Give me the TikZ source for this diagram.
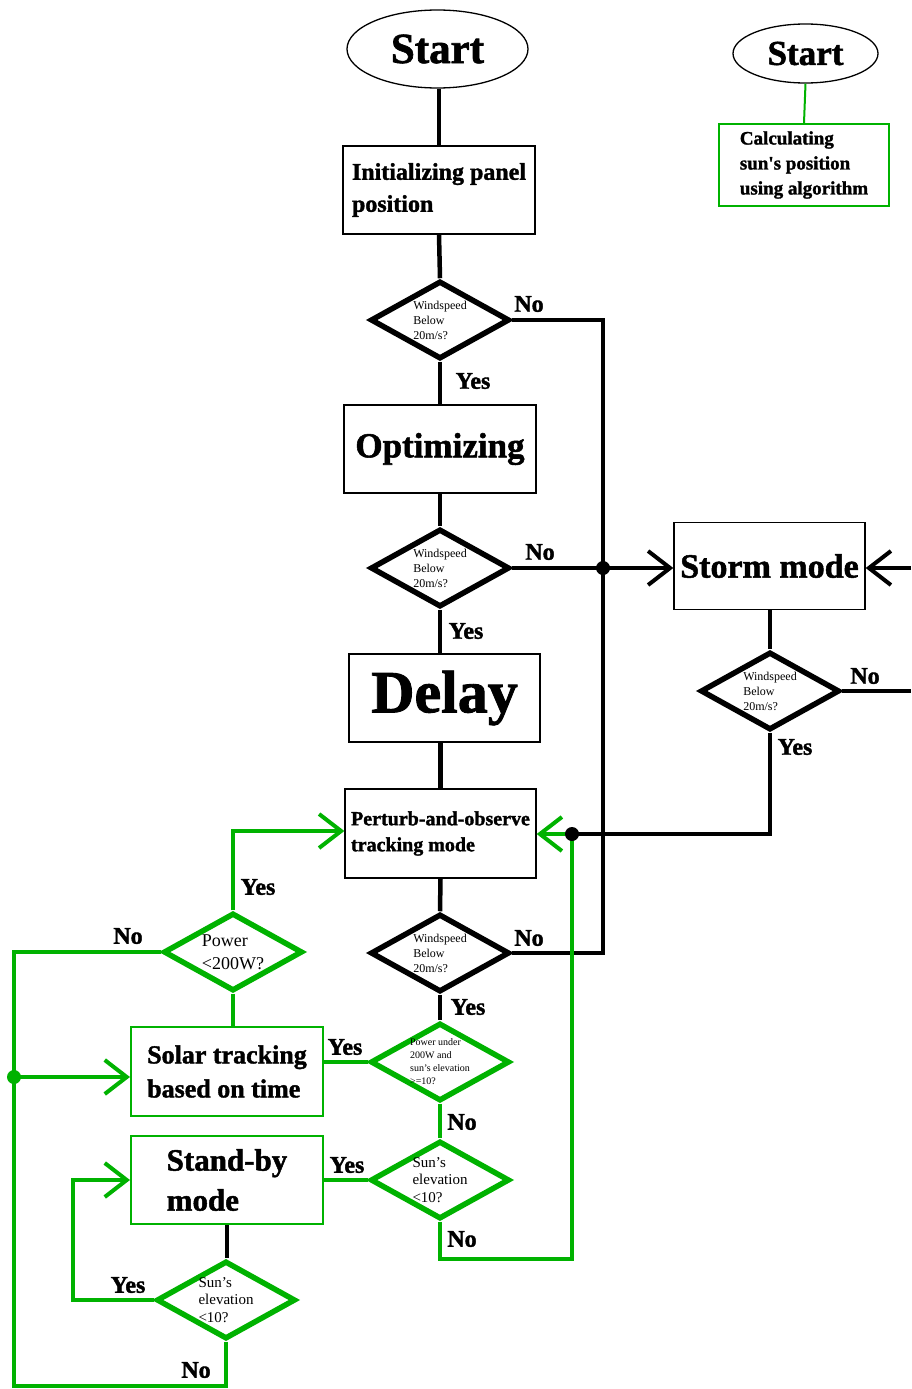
\documentclass[tikz,border=0pt]{standalone}
\usepackage{fontspec}
\setmainfont{Liberation Serif}
\newfontfamily\hv{Liberation Serif}[BoldFeatures={FakeBold=1.5}]
\usetikzlibrary{shapes.geometric,arrows.meta}
\definecolor{grn}{RGB}{0,178,0}

\newcommand{\fs}[2]{\fontsize{#1}{#2}\selectfont}
\newcommand{\ap}{\char39\relax}

\tikzset{
  box/.style={draw, line width=1.3pt, rectangle, inner sep=0pt, align=left},
  gbox/.style={box, draw=grn, line width=2pt},
  oval/.style={ellipse, draw, line width=1.3pt, inner sep=0pt},
  dec/.style={diamond, draw, line width=5.5pt, minimum width=139pt,
              minimum height=78pt, inner sep=0pt},
  gdec/.style={dec, draw=grn},
  dtext/.style={align=left, inner sep=0pt, text=black},
  wire/.style={line width=4.5pt},
  gwire/.style={wire, draw=grn},
  lbl/.style={font=\hv\bfseries\fs{24}{24}, inner sep=0pt},
  arr/.style={-{Straight Barb[length=22pt,width=34pt,line width=4pt]}},
  dot/.style={circle, fill, inner sep=0pt, minimum size=14pt},
}

\begin{document}
\begin{tikzpicture}[x=1pt,y=-1pt]
\useasboundingbox (0,0) rectangle (911,1389);

% ---- main column ----
\node[oval, minimum width=181pt, minimum height=78pt, font=\hv\bfseries\fs{43}{43}]
  (start1) at (437.5,49) {Start};
\node[box, minimum width=192pt, minimum height=88pt, font=\hv\bfseries\fs{24}{32}]
  (init) at (439,190) {Initializing panel\\position};
\node[dec, label={[dtext, font=\fs{12}{15}]center:Windspeed\\Below\\20m/s?}]
  (d1) at (440,320) {};
\node[box, minimum width=192pt, minimum height=88pt, font=\hv\bfseries\fs{35}{35}]
  (opt) at (440,449) {Optimizing};
\node[dec, label={[dtext, font=\fs{12}{15}]center:Windspeed\\Below\\20m/s?}]
  (d2) at (440,568) {};
\node[box, minimum width=191pt, minimum height=88pt, font=\hv\bfseries\fs{60}{60}]
  (delay) at (444.5,698) {Delay};
\node[box, minimum width=191pt, minimum height=89pt, font=\hv\bfseries\fs{20}{26}]
  (pno) at (440.5,833.5) {Perturb-and-observe\\tracking mode};
\node[dec, label={[dtext, font=\fs{12}{15}]center:Windspeed\\Below\\20m/s?}]
  (d4) at (440,953) {};

% ---- storm branch ----
\node[box, minimum width=191pt, minimum height=87pt, font=\hv\bfseries\fs{34}{34}]
  (storm) at (769.5,566) {Storm mode};
\node[dec, label={[dtext, font=\fs{12}{15}]center:Windspeed\\Below\\20m/s?}]
  (d3) at (770,691) {};

% ---- sun position branch ----
\node[oval, minimum width=145pt, minimum height=59pt, font=\hv\bfseries\fs{35}{35}]
  (start2) at (805.5,53.5) {Start};
\node[gbox, minimum width=170pt, minimum height=82pt, font=\hv\bfseries\fs{19}{25}]
  (calc) at (804,165) {Calculating\\sun\ap s position\\using algorithm};

% ---- green tracking logic ----
\node[gdec, label={[dtext, font=\fs{10}{13}]center:Power under\\200W and\\sun\ap s elevation\\>=10?}]
  (d5) at (440,1062) {};
\node[gdec, label={[dtext, font=\fs{15}{17.5}]center:Sun\ap s\\elevation\\<10?}]
  (d6) at (440,1180) {};
\node[gdec, label={[dtext, font=\fs{15}{17.5}]center:Sun\ap s\\elevation\\<10?}]
  (d7) at (226,1300) {};
\node[gdec, label={[dtext, font=\fs{18}{23}]center:Power\\<200W?}]
  (d8) at (233,952) {};
\node[gbox, minimum width=192pt, minimum height=89pt, font=\hv\bfseries\fs{26}{34}]
  (solar) at (227,1071.5) {Solar tracking\\based on time};
\node[gbox, minimum width=192pt, minimum height=88pt, font=\hv\bfseries\fs{31}{40}]
  (standby) at (227,1180) {Stand-by\\mode};

% ---- helper points ----
\coordinate (busR) at (603,568);
\coordinate (joinP) at (572,834);
\coordinate (busL) at (14,1077);
\coordinate (edgeA) at (911,568);
\coordinate (edgeB) at (911,691);

% ---- black connectors ----
\draw[wire] (init.north |- start1.south) -- (init.north);
\draw[wire] (init.south) -- (d1.north);
\draw[wire] (d1.south) -- (opt.north);
\draw[wire] (opt.south) -- (d2.north);
\draw[wire] (d2.south) -- (d2.south |- delay.north);
\draw[wire] (pno.north |- delay.south) -- (pno.north);
\draw[wire] (pno.south) -- (d4.north);
\draw[wire] (d4.south) -- (d5.north);
\draw[wire] (d1.east) -- (d1.east -| busR) -- (d4.east -| busR) -- (d4.east);
\draw[wire, arr] (d2.east) -- (d2.east -| storm.west);
\draw[wire, arr] (edgeA) -- (edgeA -| storm.east);
\draw[wire] (d3.north |- storm.south) -- (d3.north);
\draw[wire] (d3.east) -- (edgeB);
\draw[wire] (d3.south) -- (d3.south |- joinP) -- (joinP);
\draw[wire] (standby.south) -- (standby.south |- d7.north);

% ---- green connectors ----
\draw[draw=grn, line width=2pt] (start2.south) -- (calc.north);
\draw[gwire] (d5.west) -- (d5.west -| solar.east);
\draw[gwire] (d5.south) -- (d6.north);
\draw[gwire] (d6.west) -- (standby.east);
\draw[gwire, arr] (d6.south) -- (440,1259) -- (572,1259) -- (joinP) -- (pno.east |- joinP);
\draw[gwire, arr] (d7.west) -- (73,1300) -- (73,1180) -- (standby.west);
\draw[gwire] (d7.south) -- (226,1386) -- (14,1386) -- (14,952) -- (d8.west);
\draw[gwire, arr] (busL) -- (busL -| solar.west);
\draw[gwire, arr] (d8.north) -- (233,831) -- (pno.west |- 0,831);
\draw[gwire] (d8.south) -- (d8.south |- solar.north);

% ---- junction dots ----
\node[dot] (j1) at (busR) {};
\node[dot] (j2) at (joinP) {};
\node[dot, fill=grn] (j3) at (busL) {};

% ---- branch labels ----
\node[lbl] (l1) at (529,304) {No};
\node[lbl] (l2) at (473,381) {Yes};
\node[lbl] (l3) at (540,552) {No};
\node[lbl] (l4) at (466,631) {Yes};
\node[lbl] (l5) at (865,676) {No};
\node[lbl] (l6) at (795,747) {Yes};
\node[lbl] (l7) at (258,887) {Yes};
\node[lbl] (l8) at (128,936) {No};
\node[lbl] (l9) at (529,938) {No};
\node[lbl] (l10) at (468,1007) {Yes};
\node[lbl] (l11) at (345,1047) {Yes};
\node[lbl] (l12) at (462,1122) {No};
\node[lbl] (l13) at (347,1165) {Yes};
\node[lbl] (l14) at (462,1239) {No};
\node[lbl] (l15) at (128,1285) {Yes};
\node[lbl] (l16) at (196,1370) {No};
\end{tikzpicture}
\end{document}
